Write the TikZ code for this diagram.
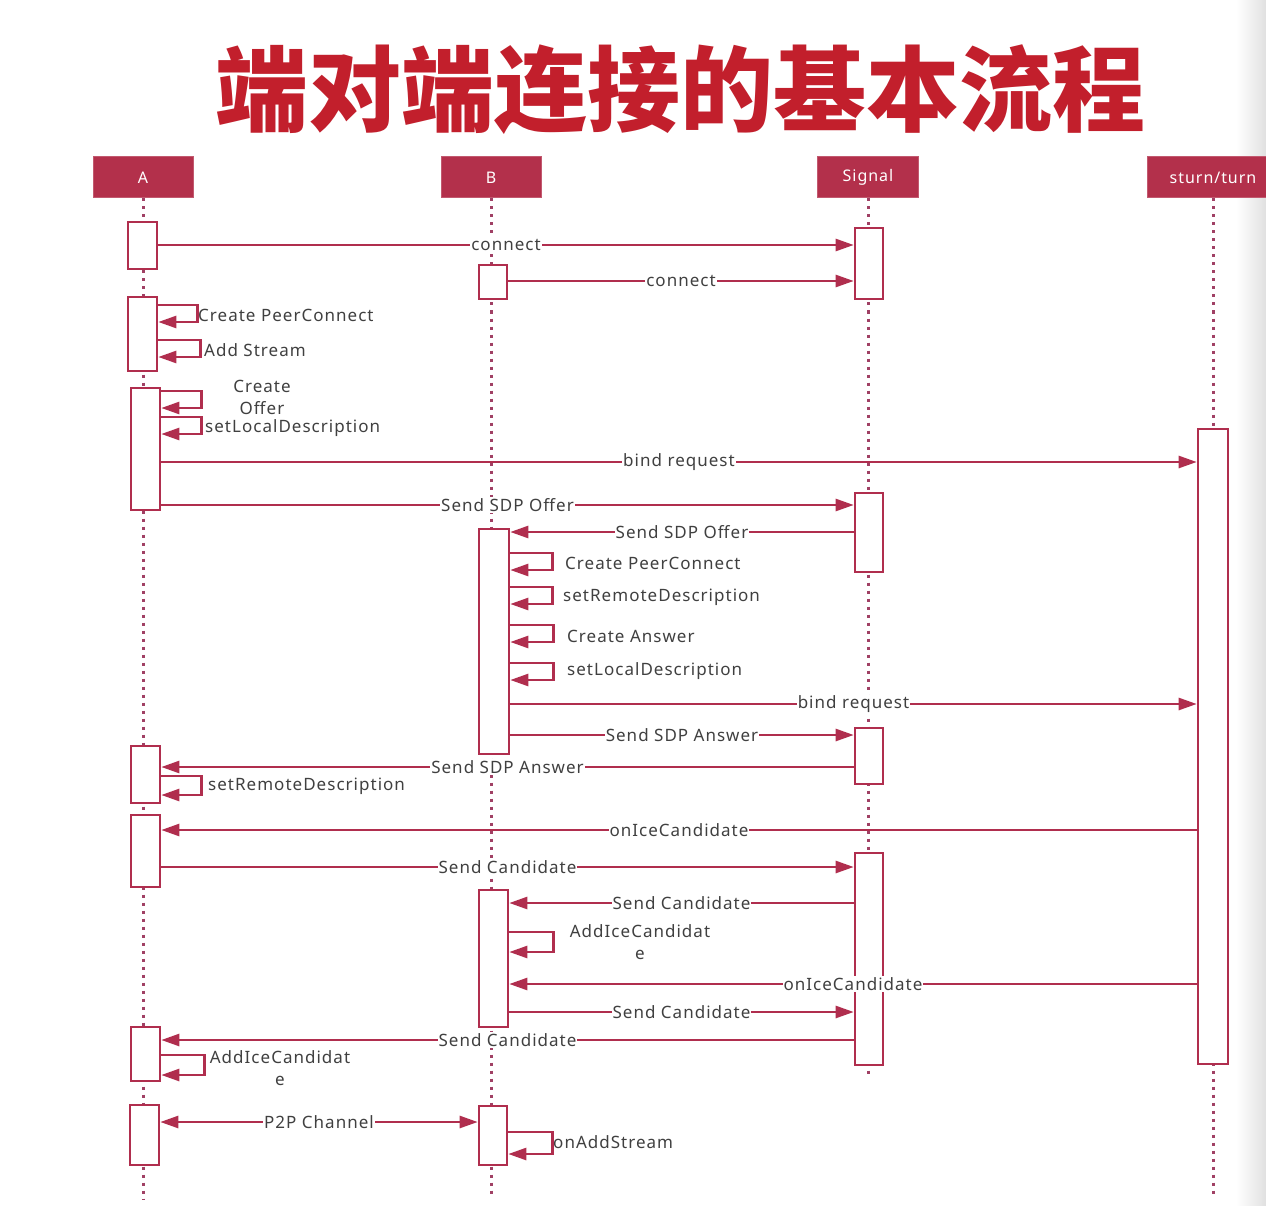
\documentclass[tikz,border=0pt]{standalone}
\usepackage{fontspec}
\setmainfont{Noto Sans}
\newfontfamily\lblfont{Noto Sans}[LetterSpace=6]
\newfontfamily\cjk{Noto Sans CJK SC}
\usetikzlibrary{arrows.meta,fit}
\definecolor{hdr}{HTML}{B3304B}
\definecolor{ln}{HTML}{B02E4E}
\definecolor{txt}{HTML}{404040}
\definecolor{dotc}{HTML}{A04064}
\definecolor{ttl}{HTML}{C21F2C}
\begin{document}
\begin{tikzpicture}[x=1pt,y=-1pt,
  hdrbox/.style={fill=hdr, draw=hdr!80!white, line width=1pt, minimum height=41pt, text=white, font=\lblfont\fontsize{16}{18}\selectfont, inner sep=0pt},
  actbar/.style={draw=ln, fill=white, line width=2.6pt, inner sep=0pt},
  life/.style={dotc, line width=3pt, dash pattern=on 3pt off 5pt},
  msg/.style={ln, line width=2.5pt, -{Triangle[length=18pt,width=12pt]}},
  lbl/.style={fill=white, text=txt, inner sep=1pt, font=\lblfont\fontsize{17}{20}\selectfont},
  slbl/.style={text=txt, inner sep=0pt, font=\lblfont\fontsize{17}{22}\selectfont, anchor=west},
  clbl/.style={text=txt, inner sep=0pt, font=\lblfont\fontsize{17}{22}\selectfont, align=center},
]
\clip (0,0) rectangle (1266,1206);
\fill[white] (0,0) rectangle (1266,1206);
\shade[left color=white, right color=black!12] (1236,0) rectangle (1266,1206);

% title
\node[font=\cjk\bfseries\fontsize{93}{93}\selectfont, text=ttl, inner sep=0pt] (title) at (680,90) {端对端连接的基本流程};

% headers
\node[hdrbox, minimum width=100pt] (hA) at (143,177.5) {A};
\node[hdrbox, minimum width=100pt] (hB) at (491,177.5) {B};
\node[hdrbox, minimum width=101pt] (hS) at (868,177.5) {Signal};
\node[hdrbox, minimum width=131pt] (hT) at (1213,177.5) {sturn/turn};

% lifeline ends
\coordinate (eA) at (143,1200);
\coordinate (eB) at (491,1195);
\coordinate (eS) at (868,1078);
\coordinate (eT) at (1213,1195);
\draw[life] (hA.south) -- (eA);
\draw[life] (hB.south) -- (eB);
\draw[life] (hS.south) -- (eS);
\draw[life] (hT.south) -- (eT);

% activation bars
\node[actbar, fit={(128,222) (157,269)}] (a1) {};
\node[actbar, fit={(128,297) (157,371)}] (a2) {};
\node[actbar, fit={(131,388) (160,510)}] (a3) {};
\node[actbar, fit={(131,746) (160,803)}] (a4) {};
\node[actbar, fit={(131,815) (160,887)}] (a5) {};
\node[actbar, fit={(131,1027) (160,1081)}] (a6) {};
\node[actbar, fit={(130,1105) (159,1165)}] (a7) {};
\node[actbar, fit={(479,265) (507,299)}] (b1) {};
\node[actbar, fit={(479,529) (509,754)}] (b2) {};
\node[actbar, fit={(479,890) (508,1027)}] (b3) {};
\node[actbar, fit={(479,1106) (507,1165)}] (b4) {};
\node[actbar, fit={(855,228) (883,299)}] (s1) {};
\node[actbar, fit={(855,493) (883,572)}] (s2) {};
\node[actbar, fit={(855,728) (883,784)}] (s3) {};
\node[actbar, fit={(855,853) (883,1065)}] (s4) {};
\node[actbar, fit={(1198,429) (1228,1064)}] (t1) {};

% messages
\draw[msg] (a1.east |- 0,245) -- node[lbl]{connect} (s1.west |- 0,245);
\draw[msg] (b1.east |- 0,281) -- node[lbl]{connect} (s1.west |- 0,281);

\draw[msg] (a2.east |- 0,305) -- ++(39,0) |- (a2.east |- 0,322);
\node[slbl] (l1) at (198,315) {Create PeerConnect};
\draw[msg] (a2.east |- 0,340) -- ++(42,0) |- (a2.east |- 0,357);
\node[slbl] (l2) at (204,350) {Add Stream};

\draw[msg] (a3.east |- 0,391) -- ++(40,0) |- (a3.east |- 0,408);
\node[clbl] (l3) at (262,397) {Create\\Offer};
\draw[msg] (a3.east |- 0,417) -- ++(40,0) |- (a3.east |- 0,434);
\node[slbl] (l4) at (205,428) {setLocalDescription};

\draw[msg] (a3.east |- 0,462) -- node[lbl]{bind request} (t1.west |- 0,462);
\draw[msg] (a3.east |- 0,505) -- node[lbl]{Send SDP Offer} (s2.west |- 0,505);
\draw[msg] (s2.west |- 0,532) -- node[lbl]{Send SDP Offer} (b2.east |- 0,532);

\draw[msg] (b2.east |- 0,553) -- ++(42,0) |- (b2.east |- 0,570);
\node[slbl] (l5) at (565,563) {Create PeerConnect};
\draw[msg] (b2.east |- 0,587) -- ++(42,0) |- (b2.east |- 0,604);
\node[slbl] (l6) at (563,597) {setRemoteDescription};
\draw[msg] (b2.east |- 0,625) -- ++(43,0) |- (b2.east |- 0,642);
\node[slbl] (l7) at (567,636) {Create Answer};
\draw[msg] (b2.east |- 0,663) -- ++(43,0) |- (b2.east |- 0,680);
\node[slbl] (l8) at (567,671) {setLocalDescription};

\draw[msg] (b2.east |- 0,704) -- node[lbl]{bind request} (t1.west |- 0,704);
\draw[msg] (b2.east |- 0,735) -- node[lbl]{Send SDP Answer} (s3.west |- 0,735);
\draw[msg] (s3.west |- 0,767) -- node[lbl]{Send SDP Answer} (a4.east |- 0,767);

\draw[msg] (a4.east |- 0,776) -- ++(40,0) |- (a4.east |- 0,795);
\node[slbl] (l9) at (208,786) {setRemoteDescription};

\draw[msg] (t1.west |- 0,830) -- node[lbl]{onIceCandidate} (a5.east |- 0,830);
\draw[msg] (a5.east |- 0,867) -- node[lbl]{Send Candidate} (s4.west |- 0,867);
\draw[msg] (s4.west |- 0,903) -- node[lbl]{Send Candidate} (b3.east |- 0,903);

\draw[msg] (b3.east |- 0,932) -- ++(44,0) |- (b3.east |- 0,952);
\node[clbl] (l10) at (640,942) {AddIceCandidat\\e};

\draw[msg] (t1.west |- 0,984) -- node[lbl]{onIceCandidate} (b3.east |- 0,984);
\draw[msg] (b3.east |- 0,1012) -- node[lbl]{Send Candidate} (s4.west |- 0,1012);
\draw[msg] (s4.west |- 0,1040) -- node[lbl]{Send Candidate} (a6.east |- 0,1040);

\draw[msg] (a6.east |- 0,1055) -- ++(43,0) |- (a6.east |- 0,1075);
\node[clbl] (l11) at (280,1068) {AddIceCandidat\\e};

\draw[ln, line width=2.5pt, {Triangle[length=18pt,width=12pt]}-{Triangle[length=18pt,width=12pt]}] (a7.east |- 0,1122) -- node[lbl]{P2P Channel} (b4.west |- 0,1122);

\draw[msg] (b4.east |- 0,1132) -- ++(44,0) |- (b4.east |- 0,1154);
\node[slbl] (l12) at (553,1142) {onAddStream};
\end{tikzpicture}
\end{document}
